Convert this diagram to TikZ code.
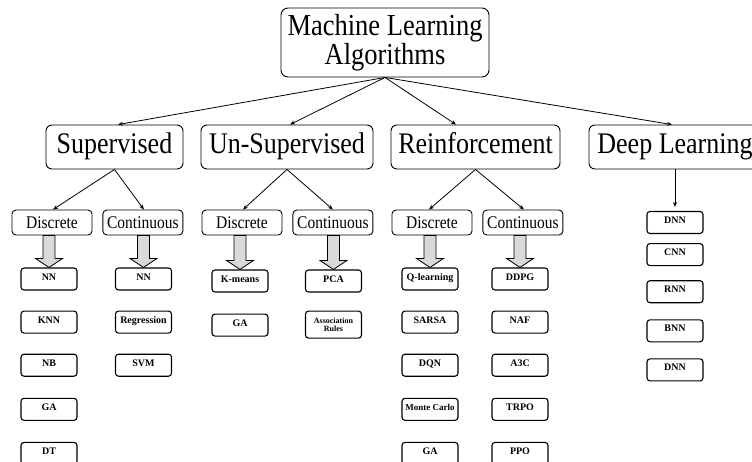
\documentclass[tikz,border=0pt]{standalone}
\usepackage{fontspec}
\usepackage{graphicx}
\setmainfont{Liberation Serif}
\usetikzlibrary{positioning,calc,arrows.meta}
\definecolor{fatgray}{RGB}{217,217,217}
\newcommand{\tall}[1]{\scalebox{1}[1.15]{#1}}
\tikzset{
  rootbox/.style={draw, line width=0.9pt, rounded corners=7pt, minimum width=208pt, minimum height=69pt, inner sep=0pt, align=center, font=\fontsize{26.5}{27}\selectfont},
  catbox/.style={draw, line width=0.9pt, rounded corners=6pt, minimum height=44pt, inner sep=0pt, text height=19pt, text depth=6pt, font=\fontsize{26}{27}\selectfont},
  subbox/.style={draw, line width=0.9pt, rounded corners=4pt, minimum width=80pt, minimum height=25pt, inner sep=0pt, font=\fontsize{15.5}{16}\selectfont},
  leafbox/.style={draw, line width=1.1pt, rounded corners=3pt, minimum width=56pt, minimum height=22pt, inner sep=0pt, text height=8pt, text depth=6pt, font=\bfseries\fontsize{10}{11}\selectfont},
  link/.style={-{Stealth[length=5pt,width=4pt]}, line width=0.8pt},
  fatarrow/.style={draw, line width=0.8pt, fill=fatgray, line join=miter},
}
\newcommand{\downblock}[2]{%
  \draw[fatarrow] ($(#1.south -| #2.north)+(-6,0)$) -- ($(#2.north)+(-6,-9)$)
    -- ($(#2.north)+(-13.5,-9)$) -- (#2.north) -- ($(#2.north)+(13.5,-9)$)
    -- ($(#2.north)+(6,-9)$) -- ($(#1.south -| #2.north)+(6,0)$) -- cycle;}

\begin{document}
\begin{tikzpicture}[x=1pt, y=-1pt]
  \useasboundingbox (0,0) rectangle (752,461);
  % Define nodes
  \node[rootbox] (ml) at (385,42.5) {\tall{Machine Learning}\\\tall{Algorithms}};
  \node[catbox, minimum width=137pt] (sup) at (114.5,147) {\tall{Supervised}};
  \node[catbox, minimum width=172pt] (uns) at (287,147) {\tall{Un-Supervised}};
  \node[catbox, minimum width=169pt] (rei) at (475.5,147) {\tall{Reinforcement}};
  \node[catbox, minimum width=172pt] (dee) at (675,147) {\tall{Deep Learning}};
  \node[subbox] (supd) at (52,222.5) {\tall{Discrete}};
  \node[subbox, right=10pt of supd] (supc) {\tall{Continuous}};
  \node[subbox] (unsd) at (242,222.5) {\tall{Discrete}};
  \node[subbox, right=10pt of unsd] (unsc) {\tall{Continuous}};
  \node[subbox] (reid) at (432,222.5) {\tall{Discrete}};
  \node[subbox, right=10pt of reid] (reic) {\tall{Continuous}};
  % Supervised
  \node[leafbox] (sd1) at (49,279) {NN};
  \node[leafbox, below=20pt of sd1] (sd2) {KNN};
  \node[leafbox, below=20pt of sd2] (sd3) {NB};
  \node[leafbox, below=21pt of sd3] (sd4) {GA};
  \node[leafbox, below=21pt of sd4] (sd5) {DT};
  \node[leafbox] (sc1) at (143.5,279) {NN};
  \node[leafbox, below=20pt of sc1] (sc2) {Regression};
  \node[leafbox, below=20pt of sc2] (sc3) {SVM};
  % Un-Supervised
  \node[leafbox] (ud1) at (240,281) {K-means};
  \node[leafbox, below=21pt of ud1] (ud2) {GA};
  \node[leafbox] (uc1) at (333.5,281) {PCA};
  \node[leafbox, below=18pt of uc1, minimum height=27pt, text height=, text depth=, align=center, font=\bfseries\fontsize{8}{8.5}\selectfont] (uc2) {Association\\Rules};
  % Reinforcement
  \node[leafbox] (rd1) at (430,279) {Q-learning};
  \node[leafbox, below=20pt of rd1] (rd2) {SARSA};
  \node[leafbox, below=20pt of rd2] (rd3) {DQN};
  \node[leafbox, below=21pt of rd3, font=\bfseries\fontsize{9}{10}\selectfont] (rd4) {Monte Carlo};
  \node[leafbox, below=21pt of rd4] (rd5) {GA};
  \node[leafbox] (rc1) at (520,279) {DDPG};
  \node[leafbox, below=20pt of rc1] (rc2) {NAF};
  \node[leafbox, below=20pt of rc2] (rc3) {A3C};
  \node[leafbox, below=21pt of rc3] (rc4) {TRPO};
  \node[leafbox, below=21pt of rc4] (rc5) {PPO};
  % Deep Learning
  \node[leafbox] (dl1) at (675,222.5) {DNN};
  \node[leafbox, below=9pt of dl1] (dl2) {CNN};
  \node[leafbox, below=14pt of dl2] (dl3) {RNN};
  \node[leafbox, below=16pt of dl3] (dl4) {BNN};
  \node[leafbox, below=16pt of dl4] (dl5) {DNN};
  % Connect nodes
  \draw[link] (ml.south) -- ([xshift=3.5pt]sup.north);
  \draw[link] (ml.south) -- ([xshift=3pt]uns.north);
  \draw[link] (ml.south) -- ([xshift=-19.5pt]rei.north);
  \draw[link] (ml.south) -- ([xshift=-3pt]dee.north);
  \draw[link] (sup.south) -- ([xshift=1pt]supd.north);
  \draw[link] (sup.south) -- ([xshift=1pt]supc.north);
  \draw[link] (uns.south) -- ([xshift=1pt]unsd.north);
  \draw[link] (uns.south) -- (unsc.north);
  \draw[link] (rei.south) -- ([xshift=-3pt]reid.north);
  \draw[link] (rei.south) -- ([xshift=1pt]reic.north);
  \draw[link, shorten >=4pt] (dee.south -| dl1.north) -- (dl1.north);
  \downblock{supd}{sd1}
  \downblock{supc}{sc1}
  \downblock{unsd}{ud1}
  \downblock{unsc}{uc1}
  \downblock{reid}{rd1}
  \downblock{reic}{rc1}
\end{tikzpicture}
\end{document}
